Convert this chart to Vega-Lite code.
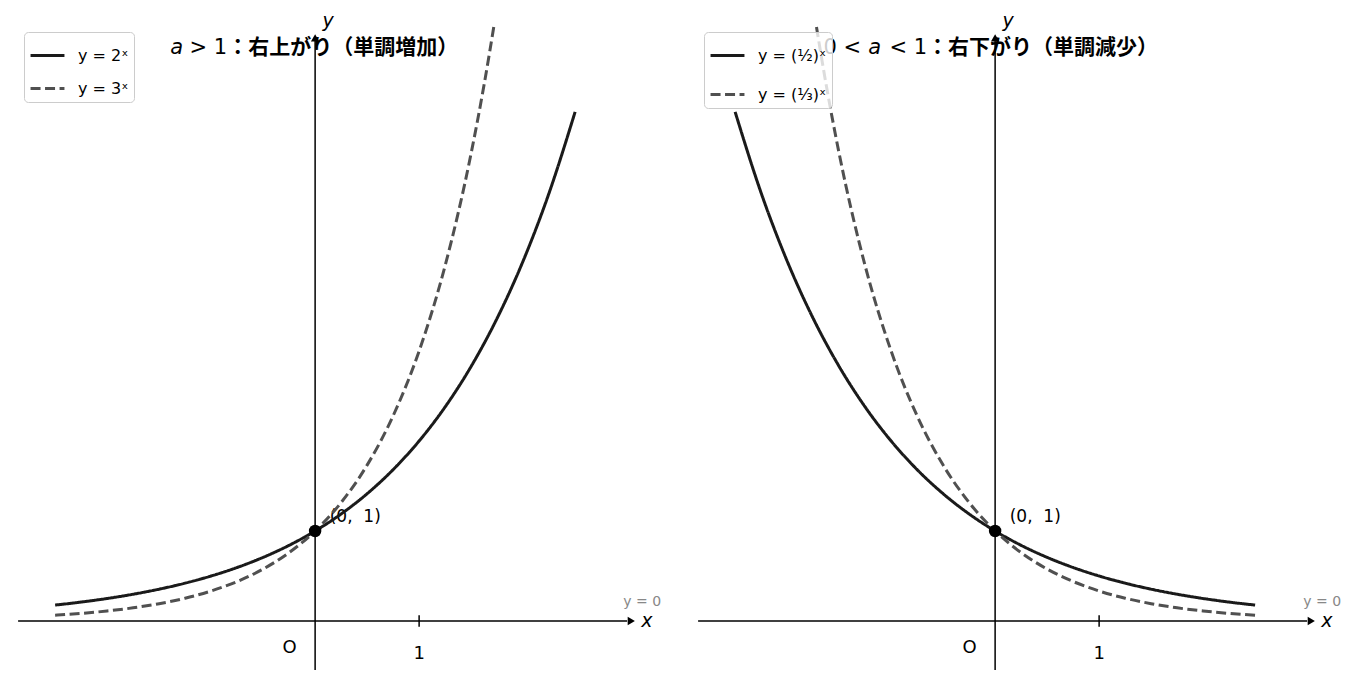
{
  "$schema": "https://vega.github.io/schema/vega-lite/v6.json",
  "padding": 0,
  "spacing": 4,
  "bounds": "flush",
  "config": {
    "view": {"stroke": null},
    "axis": {"disable": true},
    "legend": {
      "symbolType": "stroke",
      "symbolSize": 1150,
      "symbolStrokeWidth": 3,
      "labelFont": "DejaVu Sans",
      "labelFontSize": 16,
      "labelColor": "#000000",
      "labelOffset": 12,
      "padding": 5,
      "rowPadding": 6,
      "strokeColor": "#cccccc",
      "fillColor": "rgba(255,255,255,0.8)",
      "cornerRadius": 4
    },
    "text": {"font": "DejaVu Sans", "color": "#000000"}
  },
  "datasets": {
    "curves": [
      {"panel": "L", "fn": "y = 2ˣ", "x": -2.5, "y": 0.1768},
      {"panel": "L", "fn": "y = 2ˣ", "x": -2.25, "y": 0.2102},
      {"panel": "L", "fn": "y = 2ˣ", "x": -2, "y": 0.25},
      {"panel": "L", "fn": "y = 2ˣ", "x": -1.75, "y": 0.2973},
      {"panel": "L", "fn": "y = 2ˣ", "x": -1.5, "y": 0.3536},
      {"panel": "L", "fn": "y = 2ˣ", "x": -1.25, "y": 0.4204},
      {"panel": "L", "fn": "y = 2ˣ", "x": -1, "y": 0.5},
      {"panel": "L", "fn": "y = 2ˣ", "x": -0.75, "y": 0.5946},
      {"panel": "L", "fn": "y = 2ˣ", "x": -0.5, "y": 0.7071},
      {"panel": "L", "fn": "y = 2ˣ", "x": -0.25, "y": 0.8409},
      {"panel": "L", "fn": "y = 2ˣ", "x": 0, "y": 1},
      {"panel": "L", "fn": "y = 2ˣ", "x": 0.25, "y": 1.1892},
      {"panel": "L", "fn": "y = 2ˣ", "x": 0.5, "y": 1.4142},
      {"panel": "L", "fn": "y = 2ˣ", "x": 0.75, "y": 1.6818},
      {"panel": "L", "fn": "y = 2ˣ", "x": 1, "y": 2},
      {"panel": "L", "fn": "y = 2ˣ", "x": 1.25, "y": 2.3784},
      {"panel": "L", "fn": "y = 2ˣ", "x": 1.5, "y": 2.8284},
      {"panel": "L", "fn": "y = 2ˣ", "x": 1.75, "y": 3.3636},
      {"panel": "L", "fn": "y = 2ˣ", "x": 2, "y": 4},
      {"panel": "L", "fn": "y = 2ˣ", "x": 2.25, "y": 4.7568},
      {"panel": "L", "fn": "y = 2ˣ", "x": 2.5, "y": 5.6569},
      {"panel": "L", "fn": "y = 3ˣ", "x": -2.5, "y": 0.0642},
      {"panel": "L", "fn": "y = 3ˣ", "x": -2.25, "y": 0.0844},
      {"panel": "L", "fn": "y = 3ˣ", "x": -2, "y": 0.1111},
      {"panel": "L", "fn": "y = 3ˣ", "x": -1.75, "y": 0.1462},
      {"panel": "L", "fn": "y = 3ˣ", "x": -1.5, "y": 0.1925},
      {"panel": "L", "fn": "y = 3ˣ", "x": -1.25, "y": 0.2533},
      {"panel": "L", "fn": "y = 3ˣ", "x": -1, "y": 0.3333},
      {"panel": "L", "fn": "y = 3ˣ", "x": -0.75, "y": 0.4387},
      {"panel": "L", "fn": "y = 3ˣ", "x": -0.5, "y": 0.5774},
      {"panel": "L", "fn": "y = 3ˣ", "x": -0.25, "y": 0.7598},
      {"panel": "L", "fn": "y = 3ˣ", "x": 0, "y": 1},
      {"panel": "L", "fn": "y = 3ˣ", "x": 0.25, "y": 1.3161},
      {"panel": "L", "fn": "y = 3ˣ", "x": 0.5, "y": 1.7321},
      {"panel": "L", "fn": "y = 3ˣ", "x": 0.75, "y": 2.2795},
      {"panel": "L", "fn": "y = 3ˣ", "x": 1, "y": 3},
      {"panel": "L", "fn": "y = 3ˣ", "x": 1.25, "y": 3.9482},
      {"panel": "L", "fn": "y = 3ˣ", "x": 1.5, "y": 5.1962},
      {"panel": "L", "fn": "y = 3ˣ", "x": 1.625, "y": 5.961},
      {"panel": "L", "fn": "y = 3ˣ", "x": 1.7177, "y": 6.6},
      {"panel": "R", "fn": "y = (½)ˣ", "x": -2.5, "y": 5.6569},
      {"panel": "R", "fn": "y = (½)ˣ", "x": -2.25, "y": 4.7568},
      {"panel": "R", "fn": "y = (½)ˣ", "x": -2, "y": 4},
      {"panel": "R", "fn": "y = (½)ˣ", "x": -1.75, "y": 3.3636},
      {"panel": "R", "fn": "y = (½)ˣ", "x": -1.5, "y": 2.8284},
      {"panel": "R", "fn": "y = (½)ˣ", "x": -1.25, "y": 2.3784},
      {"panel": "R", "fn": "y = (½)ˣ", "x": -1, "y": 2},
      {"panel": "R", "fn": "y = (½)ˣ", "x": -0.75, "y": 1.6818},
      {"panel": "R", "fn": "y = (½)ˣ", "x": -0.5, "y": 1.4142},
      {"panel": "R", "fn": "y = (½)ˣ", "x": -0.25, "y": 1.1892},
      {"panel": "R", "fn": "y = (½)ˣ", "x": 0, "y": 1},
      {"panel": "R", "fn": "y = (½)ˣ", "x": 0.25, "y": 0.8409},
      {"panel": "R", "fn": "y = (½)ˣ", "x": 0.5, "y": 0.7071},
      {"panel": "R", "fn": "y = (½)ˣ", "x": 0.75, "y": 0.5946},
      {"panel": "R", "fn": "y = (½)ˣ", "x": 1, "y": 0.5},
      {"panel": "R", "fn": "y = (½)ˣ", "x": 1.25, "y": 0.4204},
      {"panel": "R", "fn": "y = (½)ˣ", "x": 1.5, "y": 0.3536},
      {"panel": "R", "fn": "y = (½)ˣ", "x": 1.75, "y": 0.2973},
      {"panel": "R", "fn": "y = (½)ˣ", "x": 2, "y": 0.25},
      {"panel": "R", "fn": "y = (½)ˣ", "x": 2.25, "y": 0.2102},
      {"panel": "R", "fn": "y = (½)ˣ", "x": 2.5, "y": 0.1768},
      {"panel": "R", "fn": "y = (⅓)ˣ", "x": -1.7177, "y": 6.6},
      {"panel": "R", "fn": "y = (⅓)ˣ", "x": -1.625, "y": 5.961},
      {"panel": "R", "fn": "y = (⅓)ˣ", "x": -1.5, "y": 5.1962},
      {"panel": "R", "fn": "y = (⅓)ˣ", "x": -1.25, "y": 3.9482},
      {"panel": "R", "fn": "y = (⅓)ˣ", "x": -1, "y": 3},
      {"panel": "R", "fn": "y = (⅓)ˣ", "x": -0.75, "y": 2.2795},
      {"panel": "R", "fn": "y = (⅓)ˣ", "x": -0.5, "y": 1.7321},
      {"panel": "R", "fn": "y = (⅓)ˣ", "x": -0.25, "y": 1.3161},
      {"panel": "R", "fn": "y = (⅓)ˣ", "x": 0, "y": 1},
      {"panel": "R", "fn": "y = (⅓)ˣ", "x": 0.25, "y": 0.7598},
      {"panel": "R", "fn": "y = (⅓)ˣ", "x": 0.5, "y": 0.5774},
      {"panel": "R", "fn": "y = (⅓)ˣ", "x": 0.75, "y": 0.4387},
      {"panel": "R", "fn": "y = (⅓)ˣ", "x": 1, "y": 0.3333},
      {"panel": "R", "fn": "y = (⅓)ˣ", "x": 1.25, "y": 0.2533},
      {"panel": "R", "fn": "y = (⅓)ˣ", "x": 1.5, "y": 0.1925},
      {"panel": "R", "fn": "y = (⅓)ˣ", "x": 1.75, "y": 0.1462},
      {"panel": "R", "fn": "y = (⅓)ˣ", "x": 2, "y": 0.1111},
      {"panel": "R", "fn": "y = (⅓)ˣ", "x": 2.25, "y": 0.0844},
      {"panel": "R", "fn": "y = (⅓)ˣ", "x": 2.5, "y": 0.0642}
    ],
    "notes": [
      {"panel": "L", "role": "tvar", "x": -1.394, "y": 6.3, "label": "a"},
      {"panel": "L", "role": "tmath", "x": -0.846, "y": 6.3, "label": "\u00a0>\u00a01"},
      {"panel": "L", "role": "tjp", "x": -0.846, "y": 6.3, "label": "：右上がり（単調増加）"},
      {"panel": "R", "role": "tpre", "x": -1.288, "y": 6.3, "label": "0\u00a0<"},
      {"panel": "R", "role": "tvar", "x": -1.221, "y": 6.3, "label": "a"},
      {"panel": "R", "role": "tmath", "x": -0.654, "y": 6.3, "label": "\u00a0<\u00a01"},
      {"panel": "R", "role": "tjp", "x": -0.654, "y": 6.3, "label": "：右下がり（単調減少）"},
      {"panel": "L", "role": "axisname", "x": 3.135, "y": -0.067, "label": "x"},
      {"panel": "L", "role": "axisname", "x": 0.07, "y": 6.6, "label": "y"},
      {"panel": "R", "role": "axisname", "x": 3.135, "y": -0.067, "label": "x"},
      {"panel": "R", "role": "axisname", "x": 0.07, "y": 6.6, "label": "y"},
      {"panel": "L", "role": "tick", "x": -0.245, "y": -0.356, "label": "O"},
      {"panel": "L", "role": "tick", "x": 1, "y": -0.422, "label": "1"},
      {"panel": "R", "role": "tick", "x": -0.245, "y": -0.356, "label": "O"},
      {"panel": "R", "role": "tick", "x": 1, "y": -0.422, "label": "1"},
      {"panel": "L", "role": "pt", "x": 0.14, "y": 1.1, "label": "(0,\u00a0\u00a01)"},
      {"panel": "R", "role": "pt", "x": 0.14, "y": 1.1, "label": "(0,\u00a0\u00a01)"},
      {"panel": "L", "role": "zero", "x": 3.327, "y": 0.167, "label": "y = 0"},
      {"panel": "R", "role": "zero", "x": 3.327, "y": 0.167, "label": "y = 0"}
    ]
  },
  "hconcat": [
    {
      "width": 676,
      "height": 680,
      "layer": [
        {
          "data": {"name": "notes"},
          "transform": [{"filter": "datum.panel === 'L' && datum.role === 'tvar'"}],
          "mark": {"type": "text", "fontSize": 21, "fontStyle": "italic", "align": "left", "baseline": "alphabetic"},
          "encoding": {
            "x": {"field": "x", "type": "quantitative", "scale": {"domain": [-3.03, 3.47], "nice": false, "zero": false}},
            "y": {"field": "y", "type": "quantitative", "scale": {"domain": [-0.6556, 6.9], "nice": false, "zero": false}},
            "text": {"field": "label"}
          }
        },
        {
          "data": {"name": "notes"},
          "transform": [{"filter": "datum.panel === 'L' && datum.role === 'tmath'"}],
          "mark": {"type": "text", "fontSize": 21, "align": "right", "baseline": "alphabetic"},
          "encoding": {
            "x": {"field": "x", "type": "quantitative"},
            "y": {"field": "y", "type": "quantitative"},
            "text": {"field": "label"}
          }
        },
        {
          "data": {"name": "notes"},
          "transform": [{"filter": "datum.panel === 'L' && datum.role === 'tjp'"}],
          "mark": {"type": "text", "font": "Noto Sans CJK JP", "fontWeight": "bold", "fontSize": 21, "align": "left", "baseline": "alphabetic"},
          "encoding": {
            "x": {"field": "x", "type": "quantitative"},
            "y": {"field": "y", "type": "quantitative"},
            "text": {"field": "label"}
          }
        },
        {
          "data": {"values": [{}]},
          "mark": {"type": "rule", "color": "#000000", "strokeWidth": 1.5},
          "encoding": {"x": {"datum": -2.856, "type": "quantitative"}, "x2": {"datum": 3.0}, "y": {"datum": 0, "type": "quantitative"}}
        },
        {
          "data": {"values": [{}]},
          "mark": {"type": "rule", "color": "#000000", "strokeWidth": 1.5},
          "encoding": {"x": {"datum": 0, "type": "quantitative"}, "y": {"datum": -0.544, "type": "quantitative"}, "y2": {"datum": 6.45}}
        },
        {
          "data": {"values": [{}]},
          "mark": {"type": "rule", "color": "#000000", "strokeWidth": 1.5},
          "encoding": {"x": {"datum": 1, "type": "quantitative"}, "y": {"datum": -0.065, "type": "quantitative"}, "y2": {"datum": 0.065}}
        },
        {
          "data": {"values": [{}]},
          "mark": {"type": "point", "shape": "triangle-right", "filled": true, "size": 70, "color": "#000000", "opacity": 1},
          "encoding": {"x": {"datum": 3.04, "type": "quantitative"}, "y": {"datum": 0, "type": "quantitative"}}
        },
        {
          "data": {"values": [{}]},
          "mark": {"type": "point", "shape": "triangle-up", "filled": true, "size": 70, "color": "#000000", "opacity": 1},
          "encoding": {"x": {"datum": 0, "type": "quantitative"}, "y": {"datum": 6.48, "type": "quantitative"}}
        },
        {
          "data": {"name": "notes"},
          "transform": [{"filter": "datum.panel === 'L' && datum.role === 'axisname'"}],
          "mark": {"type": "text", "fontSize": 19, "fontStyle": "italic", "align": "left", "baseline": "alphabetic"},
          "encoding": {
            "x": {"field": "x", "type": "quantitative"},
            "y": {"field": "y", "type": "quantitative"},
            "text": {"field": "label"}
          }
        },
        {
          "data": {"name": "notes"},
          "transform": [{"filter": "datum.panel === 'L' && datum.role === 'tick'"}],
          "mark": {"type": "text", "fontSize": 18, "align": "center", "baseline": "alphabetic"},
          "encoding": {
            "x": {"field": "x", "type": "quantitative"},
            "y": {"field": "y", "type": "quantitative"},
            "text": {"field": "label"}
          }
        },
        {
          "data": {"name": "notes"},
          "transform": [{"filter": "datum.panel === 'L' && datum.role === 'pt'"}],
          "mark": {"type": "text", "fontSize": 17, "align": "left", "baseline": "alphabetic"},
          "encoding": {
            "x": {"field": "x", "type": "quantitative"},
            "y": {"field": "y", "type": "quantitative"},
            "text": {"field": "label"}
          }
        },
        {
          "data": {"name": "notes"},
          "transform": [{"filter": "datum.panel === 'L' && datum.role === 'zero'"}],
          "mark": {"type": "text", "fontSize": 14, "color": "#888888", "align": "right", "baseline": "alphabetic"},
          "encoding": {
            "x": {"field": "x", "type": "quantitative"},
            "y": {"field": "y", "type": "quantitative"},
            "text": {"field": "label"}
          }
        },
        {
          "data": {"name": "curves"},
          "transform": [{"filter": "datum.panel === 'L'"}],
          "mark": {"type": "line", "strokeWidth": 3, "interpolate": "monotone"},
          "encoding": {
            "x": {"field": "x", "type": "quantitative"},
            "y": {"field": "y", "type": "quantitative"},
            "color": {
              "field": "fn", "type": "nominal",
              "scale": {"domain": ["y = 2ˣ", "y = 3ˣ"], "range": ["#1a1a1a", "#505050"]},
              "legend": {"title": null, "orient": "none", "legendX": 24, "legendY": 32}
            },
            "strokeDash": {
              "field": "fn", "type": "nominal",
              "scale": {"domain": ["y = 2ˣ", "y = 3ˣ"], "range": [[1, 0], [10, 4.5]]},
              "legend": {"title": null, "orient": "none", "legendX": 24, "legendY": 32}
            }
          }
        },
        {
          "data": {"values": [{}]},
          "mark": {"type": "point", "shape": "circle", "filled": true, "size": 155, "color": "#000000", "opacity": 1},
          "encoding": {"x": {"datum": 0, "type": "quantitative"}, "y": {"datum": 1, "type": "quantitative"}}
        }
      ]
    },
    {
      "width": 676,
      "height": 680,
      "layer": [
        {
          "data": {"name": "notes"},
          "transform": [{"filter": "datum.panel === 'R' && datum.role === 'tpre'"}],
          "mark": {"type": "text", "fontSize": 21, "align": "right", "baseline": "alphabetic"},
          "encoding": {
            "x": {"field": "x", "type": "quantitative", "scale": {"domain": [-3.03, 3.47], "nice": false, "zero": false}},
            "y": {"field": "y", "type": "quantitative", "scale": {"domain": [-0.6556, 6.9], "nice": false, "zero": false}},
            "text": {"field": "label"}
          }
        },
        {
          "data": {"name": "notes"},
          "transform": [{"filter": "datum.panel === 'R' && datum.role === 'tvar'"}],
          "mark": {"type": "text", "fontSize": 21, "fontStyle": "italic", "align": "left", "baseline": "alphabetic"},
          "encoding": {
            "x": {"field": "x", "type": "quantitative"},
            "y": {"field": "y", "type": "quantitative"},
            "text": {"field": "label"}
          }
        },
        {
          "data": {"name": "notes"},
          "transform": [{"filter": "datum.panel === 'R' && datum.role === 'tmath'"}],
          "mark": {"type": "text", "fontSize": 21, "align": "right", "baseline": "alphabetic"},
          "encoding": {
            "x": {"field": "x", "type": "quantitative"},
            "y": {"field": "y", "type": "quantitative"},
            "text": {"field": "label"}
          }
        },
        {
          "data": {"name": "notes"},
          "transform": [{"filter": "datum.panel === 'R' && datum.role === 'tjp'"}],
          "mark": {"type": "text", "font": "Noto Sans CJK JP", "fontWeight": "bold", "fontSize": 21, "align": "left", "baseline": "alphabetic"},
          "encoding": {
            "x": {"field": "x", "type": "quantitative"},
            "y": {"field": "y", "type": "quantitative"},
            "text": {"field": "label"}
          }
        },
        {
          "data": {"values": [{}]},
          "mark": {"type": "rule", "color": "#000000", "strokeWidth": 1.5},
          "encoding": {"x": {"datum": -2.856, "type": "quantitative"}, "x2": {"datum": 3.0}, "y": {"datum": 0, "type": "quantitative"}}
        },
        {
          "data": {"values": [{}]},
          "mark": {"type": "rule", "color": "#000000", "strokeWidth": 1.5},
          "encoding": {"x": {"datum": 0, "type": "quantitative"}, "y": {"datum": -0.544, "type": "quantitative"}, "y2": {"datum": 6.45}}
        },
        {
          "data": {"values": [{}]},
          "mark": {"type": "rule", "color": "#000000", "strokeWidth": 1.5},
          "encoding": {"x": {"datum": 1, "type": "quantitative"}, "y": {"datum": -0.065, "type": "quantitative"}, "y2": {"datum": 0.065}}
        },
        {
          "data": {"values": [{}]},
          "mark": {"type": "point", "shape": "triangle-right", "filled": true, "size": 70, "color": "#000000", "opacity": 1},
          "encoding": {"x": {"datum": 3.04, "type": "quantitative"}, "y": {"datum": 0, "type": "quantitative"}}
        },
        {
          "data": {"values": [{}]},
          "mark": {"type": "point", "shape": "triangle-up", "filled": true, "size": 70, "color": "#000000", "opacity": 1},
          "encoding": {"x": {"datum": 0, "type": "quantitative"}, "y": {"datum": 6.48, "type": "quantitative"}}
        },
        {
          "data": {"name": "notes"},
          "transform": [{"filter": "datum.panel === 'R' && datum.role === 'axisname'"}],
          "mark": {"type": "text", "fontSize": 19, "fontStyle": "italic", "align": "left", "baseline": "alphabetic"},
          "encoding": {
            "x": {"field": "x", "type": "quantitative"},
            "y": {"field": "y", "type": "quantitative"},
            "text": {"field": "label"}
          }
        },
        {
          "data": {"name": "notes"},
          "transform": [{"filter": "datum.panel === 'R' && datum.role === 'tick'"}],
          "mark": {"type": "text", "fontSize": 18, "align": "center", "baseline": "alphabetic"},
          "encoding": {
            "x": {"field": "x", "type": "quantitative"},
            "y": {"field": "y", "type": "quantitative"},
            "text": {"field": "label"}
          }
        },
        {
          "data": {"name": "notes"},
          "transform": [{"filter": "datum.panel === 'R' && datum.role === 'pt'"}],
          "mark": {"type": "text", "fontSize": 17, "align": "left", "baseline": "alphabetic"},
          "encoding": {
            "x": {"field": "x", "type": "quantitative"},
            "y": {"field": "y", "type": "quantitative"},
            "text": {"field": "label"}
          }
        },
        {
          "data": {"name": "notes"},
          "transform": [{"filter": "datum.panel === 'R' && datum.role === 'zero'"}],
          "mark": {"type": "text", "fontSize": 14, "color": "#888888", "align": "right", "baseline": "alphabetic"},
          "encoding": {
            "x": {"field": "x", "type": "quantitative"},
            "y": {"field": "y", "type": "quantitative"},
            "text": {"field": "label"}
          }
        },
        {
          "data": {"name": "curves"},
          "transform": [{"filter": "datum.panel === 'R'"}],
          "mark": {"type": "line", "strokeWidth": 3, "interpolate": "monotone"},
          "encoding": {
            "x": {"field": "x", "type": "quantitative"},
            "y": {"field": "y", "type": "quantitative"},
            "color": {
              "field": "fn", "type": "nominal",
              "scale": {"domain": ["y = (½)ˣ", "y = (⅓)ˣ"], "range": ["#1a1a1a", "#505050"]},
              "legend": {"title": null, "orient": "none", "legendX": 24, "legendY": 32, "rowPadding": 12}
            },
            "strokeDash": {
              "field": "fn", "type": "nominal",
              "scale": {"domain": ["y = (½)ˣ", "y = (⅓)ˣ"], "range": [[1, 0], [10, 4.5]]},
              "legend": {"title": null, "orient": "none", "legendX": 24, "legendY": 32, "rowPadding": 12}
            }
          }
        },
        {
          "data": {"values": [{}]},
          "mark": {"type": "point", "shape": "circle", "filled": true, "size": 155, "color": "#000000", "opacity": 1},
          "encoding": {"x": {"datum": 0, "type": "quantitative"}, "y": {"datum": 1, "type": "quantitative"}}
        }
      ]
    }
  ],
  "resolve": {"scale": {"color": "independent", "strokeDash": "independent"}}
}
